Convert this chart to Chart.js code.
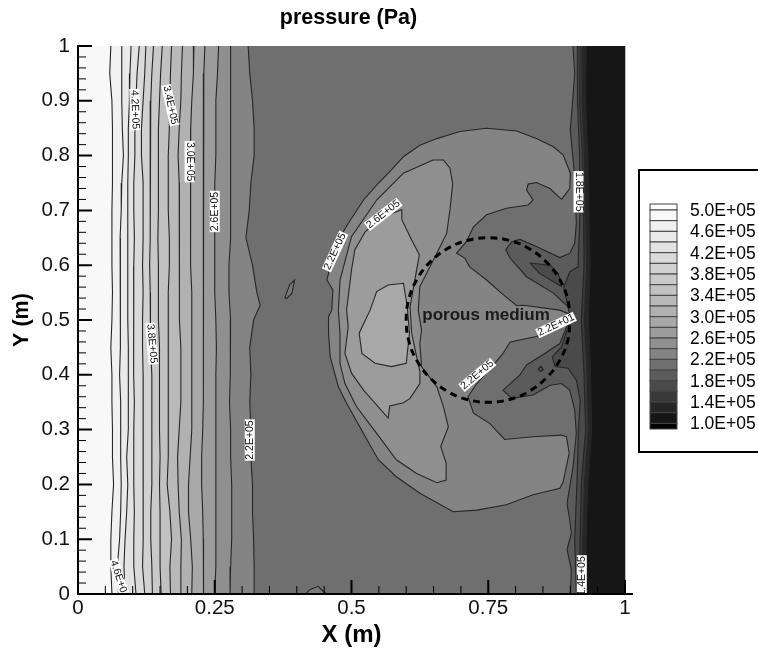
<!DOCTYPE html>
<html>
<head>
<meta charset="utf-8">
<title>pressure (Pa)</title>
<style>
  html, body { margin: 0; padding: 0; background: #fff; overflow: hidden; }
  canvas { display: block; filter: blur(0.4px); }
</style>
<script src="https://cdn.jsdelivr.net/npm/chart.js@4"></script>
</head>
<body>
<canvas id="pressureChart" width="758" height="650"></canvas>
<script>
// tick values
const xTickValues = [0, 0.25, 0.5, 0.75, 1];
const yTickValues = [0, 0.1, 0.2, 0.3, 0.4, 0.5, 0.6, 0.7, 0.8, 0.9, 1];
const xMinorTicks = [0.05, 0.1, 0.15, 0.2, 0.3, 0.35, 0.4, 0.45, 0.55, 0.6, 0.65, 0.7, 0.8, 0.85, 0.9, 0.95];
const yMinorTicks = [0.02, 0.04, 0.06, 0.08, 0.12, 0.14, 0.16, 0.18, 0.22, 0.24, 0.26, 0.28, 0.32, 0.34, 0.36, 0.38,
  0.42, 0.44, 0.46, 0.48, 0.52, 0.54, 0.56, 0.58, 0.62, 0.64, 0.66, 0.68, 0.72, 0.74, 0.76, 0.78,
  0.82, 0.84, 0.86, 0.88, 0.92, 0.94, 0.96, 0.98];

// legend
const legendLabels = ['5.0E+05', '4.6E+05', '4.2E+05', '3.8E+05', '3.4E+05', '3.0E+05', '2.6E+05', '2.2E+05', '1.8E+05', '1.4E+05', '1.0E+05'];
const legendColors = ['#fdfdfd', '#f8f8f8', '#f1f1f1', '#eaeaea', '#e2e2e2', '#dadada', '#d1d1d1', '#c9c9c9', '#c1c1c1', '#b9b9b9', '#b1b1b1',
  '#a8a8a8', '#9c9c9c', '#8f8f8f', '#848484', '#6f6f6f', '#5b5b5b', '#4a4a4a', '#383838', '#262626', '#161616', '#000000'];

// the vertical contours on the left, x read at each of these y
const rowY = [1, 0.95, 0.9, 0.85, 0.8, 0.75, 0.7, 0.65, 0.6, 0.55, 0.5, 0.45, 0.4, 0.35, 0.3, 0.25, 0.2, 0.15, 0.1, 0.05, 0];
const level48 = [.060, .058, .062, .063, .063, .063, .062, .062, .062, .063, .062, .060, .062, .062, .063, .063, .065, .062, .060, .060, .062];
const level46 = [.080, .080, .080, .081, .083, .080, .079, .077, .077, .078, .077, .078, .076, .078, .078, .078, .079, .078, .076, .072, .074];
const level44 = [.097, .095, .094, .092, .092, .091, .091, .091, .091, .091, .091, .092, .092, .092, .092, .089, .091, .089, .086, .084, .086];
const level42 = [.112, .108, .106, .104, .104, .102, .102, .103, .102, .102, .101, .102, .102, .103, .102, .102, .102, .103, .102, .102, .106];
const level40 = [.124, .122, .119, .116, .116, .119, .119, .119, .118, .119, .118, .118, .119, .119, .119, .120, .119, .119, .119, .118, .122];
const level38 = [.138, .135, .133, .132, .132, .132, .132, .132, .131, .132, .132, .133, .135, .135, .135, .135, .135, .133, .133, .135, .136];
const level36 = [.154, .151, .149, .147, .147, .147, .147, .146, .147, .147, .147, .149, .149, .149, .149, .150, .149, .150, .150, .150, .152];
const level34 = [.171, .169, .168, .167, .165, .165, .165, .167, .167, .165, .165, .165, .165, .165, .165, .165, .163, .168, .171, .168, .169];
const level32 = [.191, .189, .188, .185, .183, .185, .185, .185, .186, .185, .186, .188, .188, .188, .185, .182, .183, .185, .189, .188, .188];
const level30 = [.212, .211, .208, .206, .205, .206, .206, .206, .206, .208, .208, .208, .208, .208, .208, .205, .202, .202, .206, .209, .208];
const level28 = [.232, .230, .229, .229, .229, .229, .229, .229, .229, .229, .230, .230, .229, .229, .228, .226, .226, .228, .229, .230, .229];
const level26 = [.257, .255, .252, .252, .252, .250, .250, .250, .250, .250, .252, .253, .252, .252, .252, .252, .252, .252, .252, .252, .250];
const level24 = [.279, .279, .279, .279, .279, .279, .279, .279, .276, .276, .279, .279, .278, .277, .279, .279, .281, .281, .281, .279, .278];
const level22 = [[.311, 1], [.314, .95], [.319, .9], [.322, .85], [.322, .8], [.316, .75], [.313, .7], [.307, .65], [.319, .6], [.327, .55],
  [.333, .527], [.321, .5], [.314, .45], [.316, .4], [.314, .35], [.316, .3], [.316, .25], [.319, .2], [.319, .15], [.321, .1], [.322, .05], [.322, 0]];

// the closed contours round the porous medium
const blob22 = [[.884, .720], [.899, .740], [.900, .768], [.887, .801], [.869, .816], [.838, .831], [.802, .845], [.747, .850], [.698, .844],
  [.656, .831], [.625, .819], [.595, .798], [.573, .774], [.546, .746], [.522, .719], [.494, .676], [.476, .646], [.461, .597], [.455, .573],
  [.466, .555], [.464, .518], [.458, .506], [.458, .476], [.461, .433], [.476, .378], [.491, .348], [.522, .293], [.549, .245], [.582, .214],
  [.625, .184], [.686, .150], [.729, .153], [.783, .163], [.832, .181], [.881, .193], [.887, .205], [.898, .257], [.893, .287], [.884, .290],
  [.832, .287], [.780, .282], [.753, .311], [.723, .330], [.713, .360], [.729, .384], [.762, .421], [.777, .439], [.790, .460], [.838, .470],
  [.881, .485], [.902, .509], [.881, .518], [.814, .527], [.802, .526], [.774, .549], [.747, .573], [.716, .597], [.707, .613], [.692, .622],
  [.710, .643], [.723, .670], [.747, .692], [.783, .704], [.823, .710], [.832, .719], [.820, .737], [.823, .748], [.838, .751], [.863, .740]];
const blob24 = [[.476, .518], [.479, .573], [.500, .652], [.546, .719], [.595, .768], [.649, .792], [.668, .792], [.680, .777], [.685, .749],
  [.680, .701], [.674, .658], [.656, .622], [.625, .561], [.622, .518], [.628, .482], [.625, .457], [.628, .415], [.656, .378], [.668, .342],
  [.677, .305], [.663, .269], [.673, .239], [.673, .208], [.656, .203], [.619, .220], [.582, .245], [.546, .293], [.509, .342], [.488, .384],
  [.479, .421], [.479, .476]];
const blob26 = [[.491, .518], [.500, .591], [.506, .628], [.525, .661], [.558, .689], [.592, .701], [.592, .683], [.610, .646], [.624, .619],
  [.619, .591], [.607, .524], [.610, .476], [.619, .433], [.625, .406], [.625, .384], [.607, .357], [.595, .349], [.570, .343], [.567, .321],
  [.522, .372], [.500, .403], [.488, .439], [.494, .488]];
const blob28 = [[.534, .518], [.546, .552], [.567, .564], [.595, .567], [.602, .524], [.606, .476], [.600, .421], [.573, .415], [.543, .421],
  [.519, .439], [.514, .476]];

// the small islands
const islandLens = [[.378, .540], [.387, .564], [.396, .573], [.391, .549], [.382, .540]];
const islandBottom = [[.417, .001], [.424, .008], [.439, .014], [.448, .005], [.455, 0]];
const islandWedge = [[.841, .410], [.846, .416], [.851, .410], [.846, .406]];
const wedgeUpper = [[.826, .604], [.863, .600], [.878, .585], [.884, .561], [.844, .585]];

// the steep contours on the right
const right20 = [[.905, 1], [.908, .95], [.905, .91], [.903, .883], [.900, .847], [.904, .804], [.908, .762], [.911, .676], [.908, .640],
  [.899, .622], [.881, .614], [.838, .634], [.808, .647], [.793, .643], [.782, .628], [.790, .613], [.820, .579], [.869, .549], [.896, .524],
  [.902, .509], [.881, .457], [.844, .433], [.820, .418], [.808, .400], [.777, .372], [.793, .357], [.832, .363], [.863, .381], [.884, .384],
  [.899, .372], [.908, .336], [.911, .293], [.908, .263], [.905, .232], [.899, .196], [.894, .165], [.899, .135], [.902, .111], [.894, .081],
  [.902, .044], [.900, 0]];
const right18 = [[.914, 1], [.913, .9], [.917, .8], [.918, .7], [.914, .597], [.899, .588], [.888, .56], [.896, .524], [.900, .500], [.884, .451],
  [.867, .433], [.872, .415], [.896, .412], [.911, .390], [.918, .354], [.915, .3], [.912, .2], [.908, .1], [.911, 0]];
const right16 = [[.918, 1], [.917, .9], [.922, .8], [.924, .7], [.925, .6], [.920, .5], [.925, .4], [.928, .3], [.920, .2], [.918, .1], [.917, 0]];
const right14 = [[.923, 1], [.922, .9], [.926, .8], [.928, .7], [.930, .6], [.926, .5], [.931, .4], [.933, .3], [.926, .2], [.923, .1], [.923, 0]];
const right12 = [[.929, 1], [.928, .9], [.932, .8], [.934, .7], [.936, .6], [.933, .5], [.937, .4], [.939, .3], [.932, .2], [.929, .1], [.928, 0]];

// dashed circle of the porous medium
const circleX = [.900, .895, .880, .856, .825, .789, .750, .711, .675, .644, .620, .605, .600, .605, .620, .644, .675, .711, .750, .789, .825, .856, .880, .895, .900];
const circleY = [.500, .539, .575, .606, .630, .645, .650, .645, .630, .606, .575, .539, .500, .461, .425, .394, .370, .355, .350, .355, .370, .394, .425, .461, .500];

// contour labels: text, x, y, angle in degrees
const contourLabels = [
  ['4.2E+05', .104, .884, 88], ['3.4E+05', .169, .892, 78], ['3.0E+05', .204, .789, 90], ['2.6E+05', .250, .698, -90],
  ['2.2E+05', .470, .625, -65], ['2.6E+05', .558, .693, -38], ['3.8E+05', .135, .457, 85], ['2.2E+05', .314, .281, -90],
  ['4.6E+0', .074, .032, 72], ['2.2E+05', .730, .400, -40], ['2.2E+01', .874, .491, -25], ['1.8E+05', .915, .734, 90], ['1.4E+05', .921, .033, -90]
];

const lineColor = '#262626';
const xy = pts => pts.map(p => ({x: p[0], y: p[1]}));
const column = xs => xs.map((x, i) => ({x: x, y: rowY[i]}));

function area(points, color) {
  return {data: points, showLine: true, fill: 'shape', backgroundColor: color, borderWidth: 0, pointRadius: 0};
}
function line(points) {
  return {data: points, showLine: true, fill: false, borderColor: lineColor, borderWidth: 1.1, pointRadius: 0};
}
function closed(pts) {
  return xy(pts.concat([pts[0]]));
}
// fill from the left edge up to a contour
function leftBand(points, color) {
  return [area([{x: 0, y: 1}].concat(points, [{x: 0, y: 0}]), color), line(points)];
}
// fill from a contour to the right edge
function rightBand(pts, color) {
  const points = xy(pts);
  return [area(points.concat([{x: 1, y: 0}, {x: 1, y: 1}]), color), line(points)];
}
function blob(pts, color) {
  const points = closed(pts);
  return [area(points, color), line(points)];
}

const layers = [
  area(xy([[0, 0], [1, 0], [1, 1], [0, 1]]), legendColors[15]),
  ...leftBand(xy(level22), legendColors[14]),
  ...leftBand(column(level24), legendColors[13]),
  ...leftBand(column(level26), legendColors[12]),
  ...leftBand(column(level28), legendColors[11]),
  ...leftBand(column(level30), legendColors[10]),
  ...leftBand(column(level32), legendColors[9]),
  ...leftBand(column(level34), legendColors[8]),
  ...leftBand(column(level36), legendColors[7]),
  ...leftBand(column(level38), legendColors[6]),
  ...leftBand(column(level40), legendColors[5]),
  ...leftBand(column(level42), legendColors[4]),
  ...leftBand(column(level44), legendColors[3]),
  ...leftBand(column(level46), legendColors[2]),
  ...leftBand(column(level48), legendColors[1]),
  ...blob(islandLens, '#7a7a7a'),
  ...blob(islandBottom, '#7a7a7a'),
  ...blob(blob22, legendColors[14]),
  ...blob(blob24, legendColors[13]),
  ...blob(blob26, legendColors[12]),
  ...blob(blob28, legendColors[11]),
  ...rightBand(right20, legendColors[16]),
  ...blob(wedgeUpper, legendColors[17]),
  ...blob(islandWedge, legendColors[17]),
  ...rightBand(right18, legendColors[17]),
  ...rightBand(right16, legendColors[18]),
  ...rightBand(right14, legendColors[19]),
  ...rightBand(right12, legendColors[20]),
  {data: circleX.map((x, i) => ({x: x, y: circleY[i]})), showLine: true, fill: false, tension: 0.4,
    borderColor: '#000', borderWidth: 3, borderDash: [7, 5], pointRadius: 0}
];
// chart.js draws the highest order first
layers.forEach((d, i) => { d.order = layers.length - i; });

const fontFamily = '"Liberation Sans", Arial, sans-serif';

// everything chart.js has no option for: inward ticks, contour labels, title, legend box
const extras = {
  id: 'extras',
  afterDatasetsDraw(chart) {
    const {ctx, scales: {x, y}} = chart;
    const x0 = x.getPixelForValue(0), y0 = y.getPixelForValue(0);
    ctx.save();

    contourLabels.forEach(([text, lx, ly, angle]) => {
      ctx.save();
      ctx.beginPath();
      ctx.rect(x.left, y.top, x.width, y.height);
      ctx.clip();
      ctx.translate(x.getPixelForValue(lx), y.getPixelForValue(ly));
      ctx.rotate(angle * Math.PI / 180);
      ctx.font = '10.5px ' + fontFamily;
      const w = ctx.measureText(text).width + 2;
      ctx.fillStyle = '#fff';
      ctx.fillRect(-w / 2, -5, w, 10);
      ctx.fillStyle = '#111';
      ctx.textAlign = 'center';
      ctx.textBaseline = 'middle';
      ctx.fillText(text, 0, 0);
      ctx.restore();
    });

    ctx.fillStyle = '#1a1a1a';
    ctx.font = 'bold 17px ' + fontFamily;
    ctx.textAlign = 'center';
    ctx.textBaseline = 'middle';
    ctx.fillText('porous medium', x.getPixelForValue(0.746), y.getPixelForValue(0.509));

    // right edge of the plot
    ctx.strokeStyle = '#bbb';
    ctx.lineWidth = 1;
    ctx.beginPath();
    ctx.moveTo(x.getPixelForValue(1) + 0.5, y.getPixelForValue(1));
    ctx.lineTo(x.getPixelForValue(1) + 0.5, y0);
    ctx.stroke();

    // axes and inward ticks
    ctx.strokeStyle = '#000';
    ctx.lineWidth = 2;
    ctx.beginPath();
    ctx.moveTo(x0, y.getPixelForValue(1) - 1);
    ctx.lineTo(x0, y0);
    ctx.lineTo(x.getPixelForValue(1) + 8, y0);
    xTickValues.forEach(v => { const p = x.getPixelForValue(v); ctx.moveTo(p, y0); ctx.lineTo(p, y0 - 14); });
    yTickValues.forEach(v => { const p = y.getPixelForValue(v); ctx.moveTo(x0, p); ctx.lineTo(x0 + 14, p); });
    ctx.stroke();
    ctx.lineWidth = 1;
    ctx.beginPath();
    xMinorTicks.forEach(v => { const p = x.getPixelForValue(v); ctx.moveTo(p, y0); ctx.lineTo(p, y0 - 8); });
    yMinorTicks.forEach(v => { const p = y.getPixelForValue(v); ctx.moveTo(x0, p); ctx.lineTo(x0 + 8, p); });
    ctx.stroke();

    // title
    ctx.fillStyle = '#000';
    ctx.font = 'bold 21.5px ' + fontFamily;
    ctx.fillText('pressure (Pa)', 348.5, 18);

    // legend box
    ctx.lineWidth = 2;
    ctx.beginPath();
    ctx.moveTo(759, 170);
    ctx.lineTo(639, 170);
    ctx.lineTo(639, 452);
    ctx.lineTo(759, 452);
    ctx.stroke();
    const step = 10.67, top = 210;
    legendColors.forEach((c, i) => {
      const y1 = i === 0 ? 204 : top + (i - 1) * step;
      const y2 = i === legendColors.length - 1 ? 429 : top + i * step;
      ctx.fillStyle = c;
      ctx.fillRect(650, y1, 27, y2 - y1);
      ctx.strokeStyle = '#444';
      ctx.lineWidth = 1;
      ctx.strokeRect(650, y1, 27, y2 - y1);
    });
    ctx.fillStyle = '#000';
    ctx.font = '17.5px ' + fontFamily;
    ctx.textAlign = 'left';
    legendLabels.forEach((t, i) => ctx.fillText(t, 690, top + 2 * i * step + 1));
    ctx.restore();
  }
};

new Chart(document.getElementById('pressureChart'), {
  type: 'scatter',
  data: {datasets: layers},
  plugins: [extras],
  options: {
    responsive: false,
    animation: false,
    events: [],
    layout: {padding: {top: 46, right: 133, left: 0, bottom: 0}},
    plugins: {legend: {display: false}, tooltip: {enabled: false}},
    scales: {
      x: {
        type: 'linear', min: 0, max: 1,
        grid: {display: false, drawTicks: false},
        border: {display: false},
        afterBuildTicks: s => { s.ticks = xTickValues.map(v => ({value: v})); },
        afterFit: s => { s.height = 56; },
        ticks: {padding: 2, color: '#111', maxRotation: 0, autoSkip: false, font: {family: fontFamily, size: 20.5}, callback: v => String(v)},
        title: {display: true, text: 'X (m)', color: '#000', padding: {top: 3.6, bottom: 0}, font: {family: fontFamily, size: 24, weight: 'bold'}}
      },
      y: {
        type: 'linear', min: 0, max: 1,
        grid: {display: false, drawTicks: false},
        border: {display: false},
        afterBuildTicks: s => { s.ticks = yTickValues.map(v => ({value: v})); },
        afterFit: s => { s.width = 78; },
        ticks: {padding: 8, color: '#111', autoSkip: false, font: {family: fontFamily, size: 20.5}, callback: v => String(v)},
        title: {display: true, text: 'Y (m)', color: '#000', padding: {top: 9, bottom: 0}, font: {family: fontFamily, size: 21.5, weight: 'bold'}}
      }
    }
  }
});
</script>
</body>
</html>
